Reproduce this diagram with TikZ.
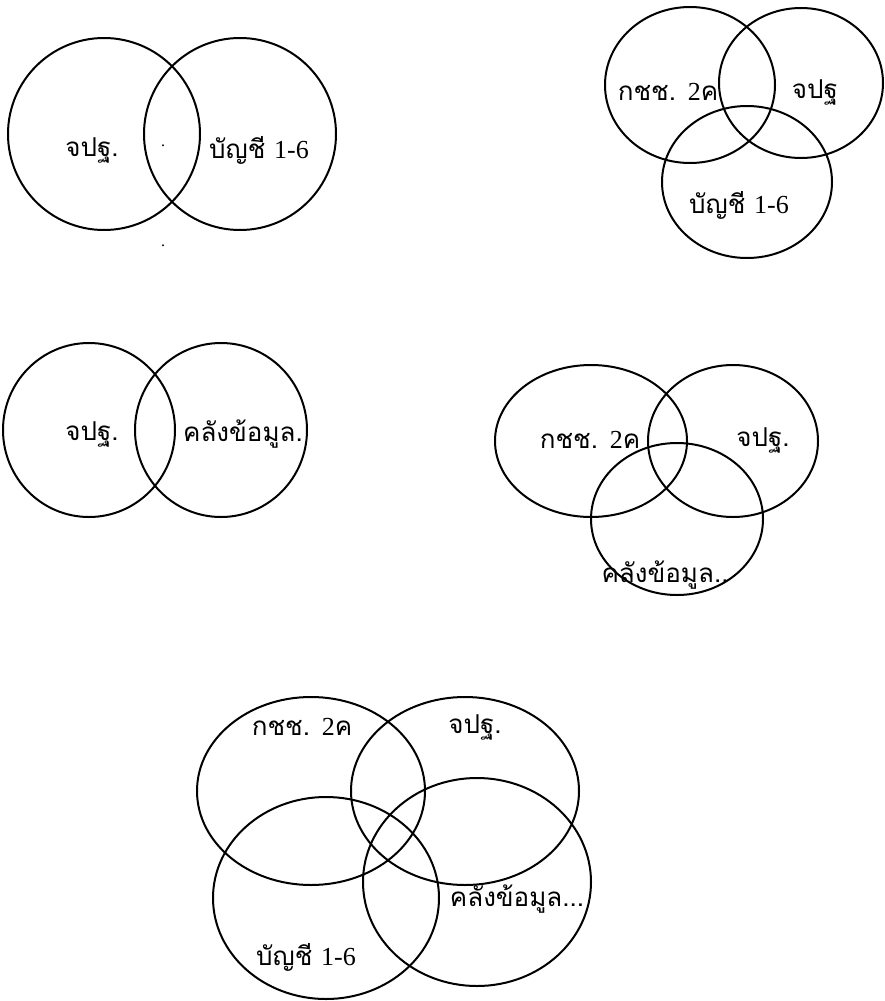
\documentclass[tikz,border=0pt]{standalone}
\usepackage{fontspec}
\setmainfont{Liberation Serif}
\newfontfamily\thaifont[Script=Thai]{Loma}
\newcommand{\lat}[1]{{\rmfamily #1}}
\usetikzlibrary{shapes.geometric}
\tikzset{
  set/.style={draw, ellipse, line width=2pt, inner sep=0pt, outer sep=0pt},
  lbl/.style={font=\thaifont\fontsize{26}{28}\selectfont, inner sep=0pt},
  dotlbl/.style={font=\fontsize{16}{18}\selectfont, inner sep=0pt}
}
\begin{document}
\begin{tikzpicture}[x=1pt,y=-1pt]
\useasboundingbox (0,0) rectangle (885,1001);
% Diagram 1
\node[set, minimum width=192, minimum height=192] (d1a) at (104,134) {};
\node[set, minimum width=192, minimum height=192] (d1b) at (240,134) {};
\node[lbl] (t1a) at (92,150) {จปฐ.};
\node[lbl] (t1b) at (259,150) {บัญชี \lat{1-6}};
\node[dotlbl] (p1) at (163,146) {.};
\node[dotlbl] (p2) at (163,246) {.};
% Diagram 2
\node[set, minimum width=170, minimum height=156] (d2a) at (690,85) {};
\node[set, minimum width=164, minimum height=150] (d2b) at (801,83) {};
\node[set, minimum width=170, minimum height=152] (d2c) at (747,182) {};
\node[lbl] (t2a) at (668,92) {กชช. \lat{2}ค};
\node[lbl] (t2b) at (815,92) {จปฐ};
\node[lbl] (t2c) at (739,205) {บัญชี \lat{1-6}};
% Diagram 3
\node[set, minimum width=172, minimum height=174] (d3a) at (89,430) {};
\node[set, minimum width=172, minimum height=174] (d3b) at (221,430) {};
\node[lbl] (t3a) at (92,434) {จปฐ.};
\node[lbl] (t3b) at (243,434) {คลังข้อมูล.};
% Diagram 4
\node[set, minimum width=192, minimum height=152] (d4a) at (591,441) {};
\node[set, minimum width=170, minimum height=152] (d4b) at (733,441) {};
\node[set, minimum width=172, minimum height=152] (d4c) at (677,519) {};
\node[lbl] (t4a) at (590,440) {กชช. \lat{2}ค};
\node[lbl] (t4b) at (763,440) {จปฐ.};
\node[lbl] (t4c) at (665,575) {คลังข้อมูล..};
% Diagram 5
\node[set, minimum width=228, minimum height=188] (d5a) at (311,791) {};
\node[set, minimum width=228, minimum height=188] (d5b) at (465,791) {};
\node[set, minimum width=226, minimum height=202] (d5c) at (326,898) {};
\node[set, minimum width=228, minimum height=208] (d5d) at (477,882) {};
\node[lbl] (t5a) at (302,727) {กชช. \lat{2}ค};
\node[lbl] (t5b) at (475,727) {จปฐ.};
\node[lbl] (t5c) at (517,899) {คลังข้อมูล...};
\node[lbl] (t5d) at (306,957) {บัญชี \lat{1-6}};
\end{tikzpicture}
\end{document}
